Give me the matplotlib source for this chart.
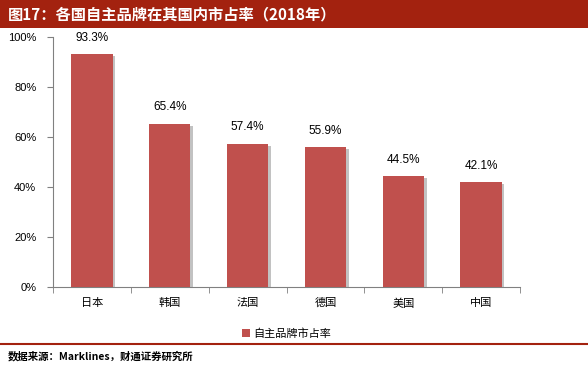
import matplotlib
matplotlib.use("Agg")
import matplotlib.pyplot as plt
from matplotlib.patches import Rectangle, Patch
from matplotlib.lines import Line2D
import matplotlib.patheffects as pe

plt.rcParams['font.family'] = ['Noto Sans CJK SC', 'DejaVu Sans']

categories = ["日本", "韩国", "法国", "德国", "美国", "中国"]
values = [93.3, 65.4, 57.4, 55.9, 44.5, 42.1]
yticks = [0, 20, 40, 60, 80, 100]
series_name = "自主品牌市占率"
title = "图17：各国自主品牌在其国内市占率（2018年）"
source = "数据来源：Marklines，财通证券研究所"

W, H = 588, 366
fig = plt.figure(figsize=(W/100, H/100), dpi=100)

# title bar
fig.patches.append(Rectangle((0, 1-28/H), 1, 28/H, transform=fig.transFigure,
                             facecolor="#A3220F", edgecolor="none", zorder=0))
fig.text(8/W, 1-14/H, title, color="white", fontsize=11, fontweight="bold",
         va="center", ha="left")

# bottom rule
fig.add_artist(Line2D([0, 1], [1-344/H, 1-344/H], transform=fig.transFigure,
                      color="#A3220F", lw=1.5))
fig.text(8/W, 1-356/H, source, fontsize=7.5, fontweight="bold", va="center", ha="left")

ax = fig.add_axes([53/W, 1-287/H, (520-53)/W, 250/H])
x = list(range(len(categories)))
bars = ax.bar(x, values, width=0.53, color="#C0504D", zorder=3,
              path_effects=[pe.SimplePatchShadow(offset=(2, -1.5), shadow_rgbFace="#9a9a9a", alpha=0.6),
                            pe.Normal()])
for xi, v in zip(x, values):
    ax.text(xi, v + 4.0, f"{v:.1f}%", ha="center", va="bottom", fontsize=8.5,
            family=["Liberation Sans"])

ax.set_xlim(-0.5, len(categories) - 0.5)
ax.set_ylim(0, 100)
ax.set_yticks(yticks)
ax.set_yticklabels([f"{t}%" for t in yticks], fontsize=8, family=["Liberation Sans"])
ax.set_xticks(x)
ax.set_xticklabels(categories, fontsize=8)
ax.tick_params(axis="x", length=0, pad=8)
ax.tick_params(axis="y", length=4, direction="out", color="#808080", pad=8)
ax.set_xticks([i - 0.5 for i in range(len(categories) + 1)], minor=True)
ax.tick_params(axis="x", which="minor", length=4, direction="out", color="#808080")
for s in ["top", "right"]:
    ax.spines[s].set_visible(False)
for s in ["left", "bottom"]:
    ax.spines[s].set_color("#808080")
    ax.spines[s].set_linewidth(0.8)

handle = Patch(facecolor="#C0504D", edgecolor="none")
ax.legend([handle], [series_name], loc="upper center", bbox_to_anchor=(0.5, -0.125),
          frameon=False, fontsize=8, handlelength=0.7, handleheight=0.7, handletextpad=0.3)

fig.savefig("out.png", dpi=100)
